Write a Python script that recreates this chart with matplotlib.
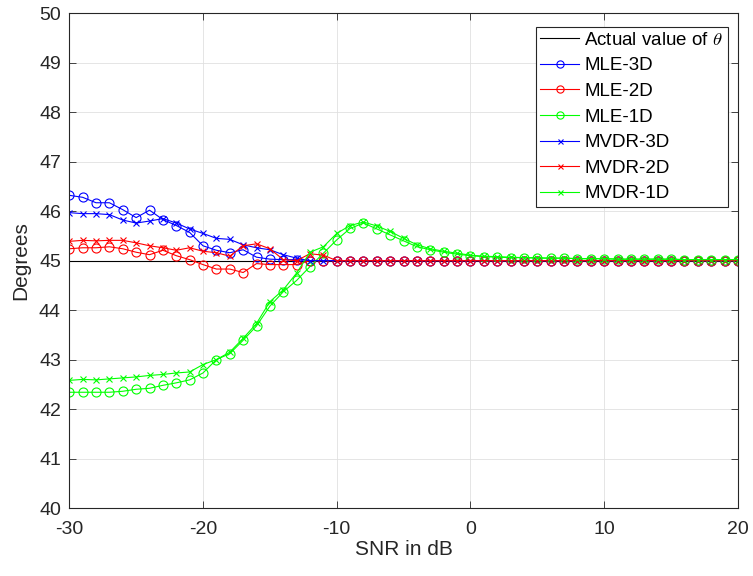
import numpy as np
import matplotlib
matplotlib.use("Agg")
import matplotlib.pyplot as plt

plt.rcParams['font.family'] = ['Liberation Sans', 'DejaVu Sans']
plt.rcParams['mathtext.fontset'] = 'cm'
plt.rcParams['axes.unicode_minus'] = False

snr = list(range(-30, 21))
actual = [45.0] * len(snr)

mle_3d = [46.32, 46.28, 46.17, 46.17, 46.03, 45.87, 46.02, 45.83, 45.71, 45.57,
          45.30, 45.21, 45.16, 45.22, 45.07, 45.03, 45.02, 45.02] + [45.0] * 33
mle_2d = [45.24, 45.26, 45.26, 45.28, 45.24, 45.17, 45.12, 45.21, 45.10, 45.02,
          44.92, 44.83, 44.83, 44.76, 44.94, 44.92, 44.92, 44.92] + [45.0] * 33
mle_1d = [42.34, 42.34, 42.34, 42.34, 42.36, 42.40, 42.42, 42.48, 42.53, 42.59,
          42.73, 43.00, 43.12, 43.39, 43.68, 44.08, 44.37, 44.60,
          44.88, 45.15, 45.42, 45.65, 45.76, 45.64, 45.52, 45.40, 45.28, 45.22,
          45.17, 45.13, 45.10,
          45.08, 45.07, 45.06, 45.06, 45.05, 45.05, 45.05, 45.04, 45.04, 45.04,
          45.03, 45.03, 45.03, 45.03, 45.03, 45.02, 45.02, 45.02, 45.02, 45.02]
mvdr_3d = [45.97, 45.95, 45.95, 45.93, 45.82, 45.76, 45.80, 45.85, 45.76, 45.64,
           45.55, 45.45, 45.43, 45.32, 45.26, 45.22, 45.12, 45.05] + [45.0] * 33
mvdr_2d = [45.39, 45.41, 45.40, 45.41, 45.41, 45.36, 45.30, 45.26, 45.21, 45.26,
           45.19, 45.16, 45.09, 45.30, 45.34, 45.24, 45.02, 45.00,
           45.14, 45.11] + [45.0] * 31
mvdr_1d = [42.58, 42.60, 42.59, 42.61, 42.63, 42.65, 42.68, 42.70, 42.73, 42.75,
           42.90, 43.00, 43.15, 43.43, 43.73, 44.17, 44.41, 44.75,
           45.17, 45.28, 45.55, 45.71, 45.78, 45.70, 45.59, 45.45, 45.32, 45.24,
           45.19, 45.15, 45.11,
           45.09, 45.08, 45.07, 45.06, 45.06, 45.05, 45.05, 45.04, 45.04, 45.04,
           45.03, 45.03, 45.03, 45.03, 45.03, 45.02, 45.02, 45.02, 45.02, 45.02]

fig = plt.figure(figsize=(7.53, 5.76), dpi=100)
ax = fig.add_axes([0.092, 0.118, 0.888, 0.859])

lw = 0.8
ax.plot(snr, actual, color='black', lw=lw, label=r'Actual value of $\theta$')
ax.plot(snr, mle_3d, color=(0, 0, 1), lw=lw, marker='o', ms=6.5, mfc='none', mew=0.8, label='MLE-3D')
ax.plot(snr, mle_2d, color=(1, 0, 0), lw=lw, marker='o', ms=6.5, mfc='none', mew=0.8, label='MLE-2D')
ax.plot(snr, mle_1d, color=(0, 1, 0), lw=lw, marker='o', ms=6.5, mfc='none', mew=0.8, label='MLE-1D')
ax.plot(snr, mvdr_3d, color=(0, 0, 1), lw=lw, marker='x', ms=4.5, mew=0.8, label='MVDR-3D')
ax.plot(snr, mvdr_2d, color=(1, 0, 0), lw=lw, marker='x', ms=4.5, mew=0.8, label='MVDR-2D')
ax.plot(snr, mvdr_1d, color=(0, 1, 0), lw=lw, marker='x', ms=4.5, mew=0.8, label='MVDR-1D')

ax.set_xlim(-30, 20)
ax.set_ylim(40, 50)
ax.set_xticks([-30, -20, -10, 0, 10, 20])
ax.set_yticks(range(40, 51))
ax.grid(True, color=(0.88, 0.88, 0.88), lw=0.6)
ax.set_axisbelow(True)

tc = (0.15, 0.15, 0.15)
for s in ax.spines.values():
    s.set_color(tc)
    s.set_linewidth(0.8)
ax.tick_params(direction='in', length=5, width=0.6, colors=tc, labelsize=14,
               top=True, right=True, pad=6)
ax.tick_params(axis='x', pad=9)
ax.set_xlabel('SNR in dB', fontsize=15, color=tc, labelpad=2)
ax.set_ylabel('Degrees', fontsize=15, color=tc, labelpad=6)

leg = ax.legend(loc='upper right', bbox_to_anchor=(0.985, 0.972), borderaxespad=0,
                fontsize=13.5, frameon=True, fancybox=False, framealpha=1,
                edgecolor=(0.15, 0.15, 0.15), handlelength=2.05, handletextpad=0.3,
                labelspacing=0.45, borderpad=0.25, markerscale=0.8)
leg.get_frame().set_linewidth(0.8)

fig.savefig('out.png', dpi=100)
